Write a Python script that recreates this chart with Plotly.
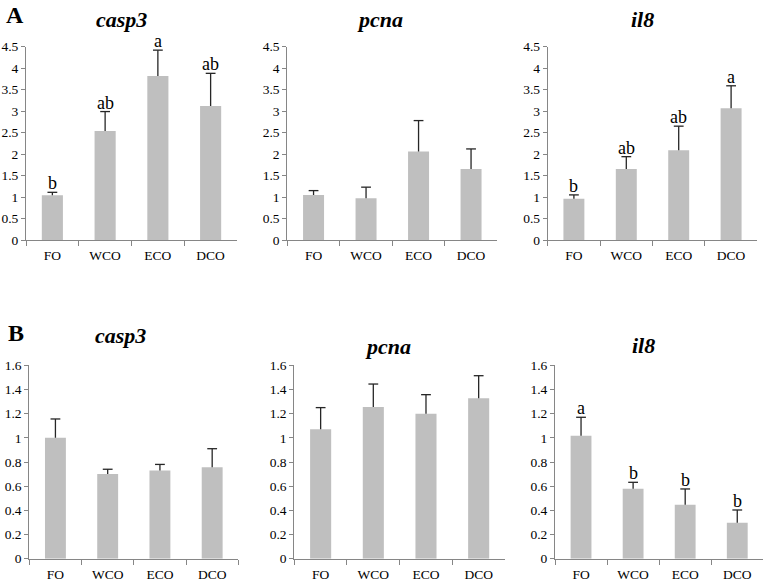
import plotly.graph_objects as go

W, H = 767, 582
categories = ["FO", "WCO", "ECO", "DCO"]

# Panel A
A_casp3 = [1.04, 2.54, 3.82, 3.12]
A_casp3_err = [0.07, 0.45, 0.60, 0.76]
A_casp3_sig = ["b", "ab", "a", "ab"]
A_pcna = [1.05, 0.97, 2.06, 1.65]
A_pcna_err = [0.10, 0.26, 0.72, 0.47]
A_pcna_sig = ["", "", "", ""]
A_il8 = [0.96, 1.65, 2.09, 3.07]
A_il8_err = [0.09, 0.29, 0.56, 0.52]
A_il8_sig = ["b", "ab", "ab", "a"]

# Panel B
B_casp3 = [1.00, 0.70, 0.73, 0.756]
B_casp3_err = [0.156, 0.04, 0.05, 0.154]
B_casp3_sig = ["", "", "", ""]
B_pcna = [1.07, 1.255, 1.20, 1.327]
B_pcna_err = [0.18, 0.19, 0.157, 0.187]
B_pcna_sig = ["", "", "", ""]
B_il8 = [1.018, 0.579, 0.447, 0.298]
B_il8_err = [0.152, 0.053, 0.13, 0.105]
B_il8_sig = ["a", "b", "b", "b"]

A_ticks = [0, 0.5, 1, 1.5, 2, 2.5, 3, 3.5, 4, 4.5]
A_ticktext = ["0", "0.5", "1", "1.5", "2", "2.5", "3", "3.5", "4", "4.5"]
B_ticks = [0, 0.2, 0.4, 0.6, 0.8, 1.0, 1.2, 1.4, 1.6]
B_ticktext = ["0", "0.2", "0.4", "0.6", "0.8", "1", "1.2", "1.4", "1.6"]

panels = [
    (A_casp3, A_casp3_err, A_casp3_sig, (26, 237), (46.7, 240), 4.5, A_ticks, A_ticktext, (121, 20), "casp3"),
    (A_pcna, A_pcna_err, A_pcna_sig, (287.3, 497.3), (46.7, 240), 4.5, A_ticks, A_ticktext, (380, 20), "pcna"),
    (A_il8, A_il8_err, A_il8_sig, (547.7, 757.3), (46.7, 240), 4.5, A_ticks, A_ticktext, (642, 20), "il8"),
    (B_casp3, B_casp3_err, B_casp3_sig, (29.3, 238.3), (365.3, 558.7), 1.6, B_ticks, B_ticktext, (120, 335), "casp3"),
    (B_pcna, B_pcna_err, B_pcna_sig, (294.3, 505), (365.3, 558.7), 1.6, B_ticks, B_ticktext, (388, 346), "pcna"),
    (B_il8, B_il8_err, B_il8_sig, (555, 763.3), (365.3, 558.7), 1.6, B_ticks, B_ticktext, (643, 345), "il8"),
]

FONT = "Liberation Serif"
AXCOL = "#868686"
ERRCOL = "#262626"

fig = go.Figure()
layout = dict(
    width=W, height=H,
    margin=dict(l=0, r=0, t=0, b=0, autoexpand=False),
    paper_bgcolor="white", plot_bgcolor="white",
    showlegend=False, bargap=0.6,
    font=dict(family=FONT, color="black"),
)
annotations = []

for i, (vals, err, sig, xr, yr, ymax, ticks, ticktext, tpos, title) in enumerate(panels):
    n = i + 1
    xa = "x" if n == 1 else f"x{n}"
    ya = "y" if n == 1 else f"y{n}"
    tops = [v + e for v, e in zip(vals, err)]
    fig.add_trace(go.Bar(
        x=categories, y=vals, xaxis=xa, yaxis=ya,
        marker=dict(color="#bfbfbf", line=dict(width=0)),
        error_y=dict(type="data", array=err, arrayminus=[0] * len(err),
                     symmetric=False, color=ERRCOL, thickness=1.3, width=0),
        hoverinfo="skip",
    ))
    # top caps of the error bars
    fig.add_trace(go.Scatter(
        x=categories, y=tops, xaxis=xa, yaxis=ya, mode="markers",
        marker=dict(symbol="line-ew", size=7, line=dict(color=ERRCOL, width=1.3)),
        hoverinfo="skip", cliponaxis=False,
    ))
    xkey = "xaxis" if n == 1 else f"xaxis{n}"
    ykey = "yaxis" if n == 1 else f"yaxis{n}"
    layout[xkey] = dict(
        domain=[xr[0] / W, xr[1] / W], anchor=ya, automargin=False,
        showline=True, linecolor=AXCOL, linewidth=1,
        ticks="outside", tickson="boundaries", ticklen=5, tickcolor=AXCOL,
        ticklabelstandoff=3,
        tickfont=dict(family=FONT, size=13.5, color="black"),
        showgrid=False, zeroline=False, fixedrange=True,
    )
    layout[ykey] = dict(
        domain=[1 - yr[1] / H, 1 - yr[0] / H], anchor=xa, automargin=False,
        range=[0, ymax], tickvals=ticks, ticktext=ticktext,
        showline=True, linecolor=AXCOL, linewidth=1,
        ticks="outside", ticklen=4, tickcolor=AXCOL,
        tickfont=dict(family=FONT, size=13.5, color="black"),
        showgrid=False, zeroline=False, fixedrange=True,
    )
    annotations.append(dict(
        x=tpos[0] / W, y=1 - tpos[1] / H, xref="paper", yref="paper",
        text=f"<b><i>{title}</i></b>", showarrow=False,
        font=dict(family=FONT, size=22, color="black"),
        xanchor="center", yanchor="middle",
    ))
    for c, t, s in zip(categories, tops, sig):
        if s:
            annotations.append(dict(
                x=c, y=t, xref=xa, yref=ya, text=s, showarrow=False,
                font=dict(family=FONT, size=18, color="black"),
                xanchor="center", yanchor="bottom", yshift=-3,
            ))

annotations.append(dict(x=15 / W, y=1 - 15 / H, xref="paper", yref="paper",
                        text="<b>A</b>", showarrow=False,
                        font=dict(family=FONT, size=24, color="black"),
                        xanchor="center", yanchor="middle"))
annotations.append(dict(x=16 / W, y=1 - 333 / H, xref="paper", yref="paper",
                        text="<b>B</b>", showarrow=False,
                        font=dict(family=FONT, size=24, color="black"),
                        xanchor="center", yanchor="middle"))
layout["annotations"] = annotations
fig.update_layout(**layout)
fig.write_html("out.html", config={"displayModeBar": False},
               post_script="document.body.style.margin='0px';document.body.style.overflow='hidden';")
